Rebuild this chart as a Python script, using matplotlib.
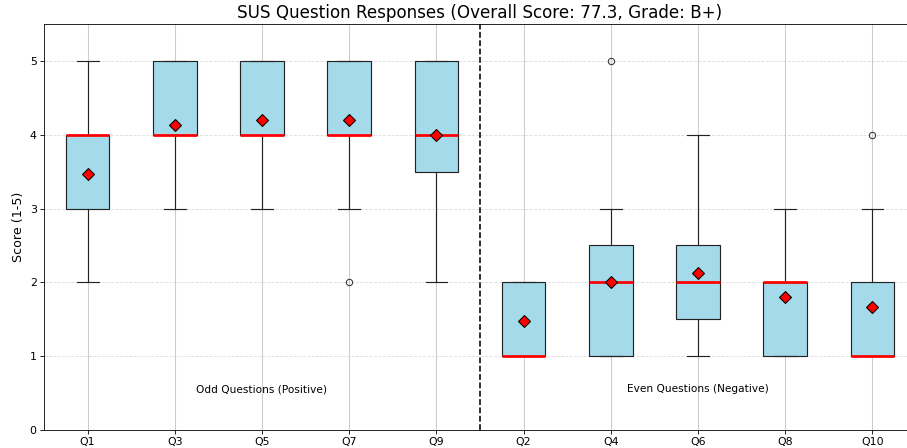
import matplotlib
matplotlib.use("Agg")
import matplotlib.pyplot as plt

# Box statistics per question
labels = ["Q1", "Q3", "Q5", "Q7", "Q9", "Q2", "Q4", "Q6", "Q8", "Q10"]
q1s = [3, 4, 4, 4, 3.5, 1, 1, 1.5, 1, 1]
medians = [4, 4, 4, 4, 4, 1, 2, 2, 2, 1]
q3s = [4, 5, 5, 5, 5, 2, 2.5, 2.5, 2, 2]
whis_lo = [2, 3, 3, 3, 2, 1, 1, 1, 1, 1]
whis_hi = [5, 5, 5, 5, 5, 2, 3, 4, 3, 3]
means = [3.47, 4.13, 4.2, 4.2, 4.0, 1.47, 2.0, 2.13, 1.8, 1.67]
fliers = [[], [], [], [2], [], [], [5], [], [], [4]]

overall_score = 77.3
grade = "B+"

stats = []
for i, lab in enumerate(labels):
    stats.append({
        "label": lab, "q1": q1s[i], "med": medians[i], "q3": q3s[i],
        "whislo": whis_lo[i], "whishi": whis_hi[i], "mean": means[i],
        "fliers": fliers[i],
    })

# 12 inch wide figure rendered down to 907 px
dpi = 907 / 12
fig = plt.figure(figsize=(12, 448 / dpi), dpi=dpi)
ax = fig.add_axes([44 / 907, 18 / 448, 872 / 907, 406 / 448])

positions = list(range(1, len(labels) + 1))
ax.bxp(stats, positions=positions, widths=0.5, patch_artist=True, showmeans=True,
       boxprops=dict(facecolor="#a4daea", edgecolor="#222222", linewidth=1.1),
       medianprops=dict(color="red", linewidth=2.6),
       meanprops=dict(marker="D", markerfacecolor="red", markeredgecolor="black", markersize=8),
       flierprops=dict(marker="o", markerfacecolor="none", markeredgecolor="#333333", markersize=6),
       whiskerprops=dict(color="#222222", linewidth=1.1), capprops=dict(color="#222222", linewidth=1.1))

ax.set_xticks(positions)
ax.set_xticklabels(labels, fontsize=10.5)
ax.tick_params(axis="y", labelsize=10.5)
ax.set_xlim(0.5, 10.5)
ax.set_ylim(0, 5.5)
ax.set_yticks([0, 1, 2, 3, 4, 5])

ax.grid(True, axis="x", color="#cccccc", linewidth=1)
ax.grid(True, axis="y", linestyle="--", color="#cccccc", alpha=0.7, linewidth=0.8)
ax.set_axisbelow(True)

ax.axvline(5.5, color="black", linestyle="--", linewidth=1.5)
ax.text(3, 0.55, "Odd Questions (Positive)", ha="center", va="center", fontsize=10)
ax.text(8, 0.55, "Even Questions (Negative)", ha="center", va="center", fontsize=10)

ax.set_ylabel("Score (1-5)", fontsize=12)
ax.set_title(f"SUS Question Responses (Overall Score: {overall_score}, Grade: {grade})", fontsize=16)

fig.savefig("out.png", dpi=dpi)
